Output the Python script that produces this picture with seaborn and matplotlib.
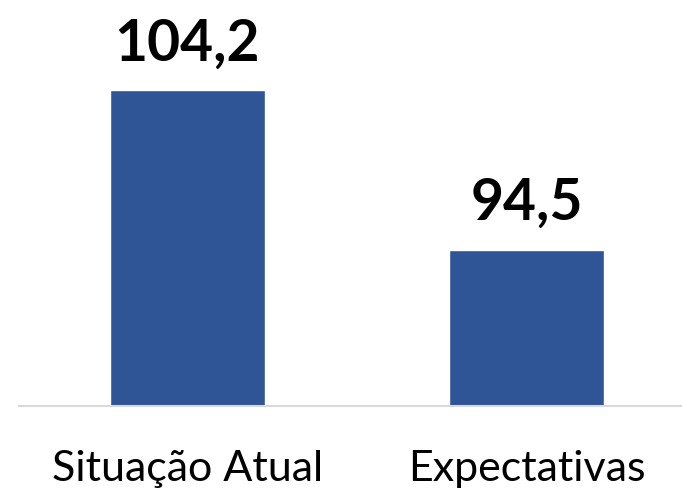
import matplotlib
matplotlib.use("Agg")
import matplotlib.pyplot as plt
import seaborn as sns

categorias = ["Situação Atual", "Expectativas"]
valores = [104.2, 94.5]
rotulos = ["104,2", "94,5"]

sns.set_style("white")
plt.rcParams['font.family'] = ['Lato', 'DejaVu Sans']

fig = plt.figure(figsize=(6.82, 4.9), dpi=100)
ax = fig.add_axes([19 / 682, 1 - 406 / 490, 1 - 19 / 682, (406 - 10) / 490])

sns.barplot(x=categorias, y=valores, color="#2F5597", saturation=1, width=0.455, ax=ax)

# eixo y nao comeca em zero
ax.set_ylim(85, 85 + 396 / 16.46)
ax.set_xlim(-0.497, 1.459)

for i, (v, r) in enumerate(zip(valores, rotulos)):
    ax.annotate(r, (i, v), xytext=(0, 14), textcoords="offset points",
                ha="center", va="bottom", fontsize=41, fontweight="bold", color="black")

ax.set_yticks([])
ax.set_ylabel("")
for s in ["top", "left", "right"]:
    ax.spines[s].set_visible(False)
ax.spines["bottom"].set_color("#D9D9D9")
ax.spines["bottom"].set_linewidth(1.5)
ax.tick_params(axis="x", length=0, pad=32, labelsize=31, labelcolor="black")

fig.savefig("out.png", dpi=100)
